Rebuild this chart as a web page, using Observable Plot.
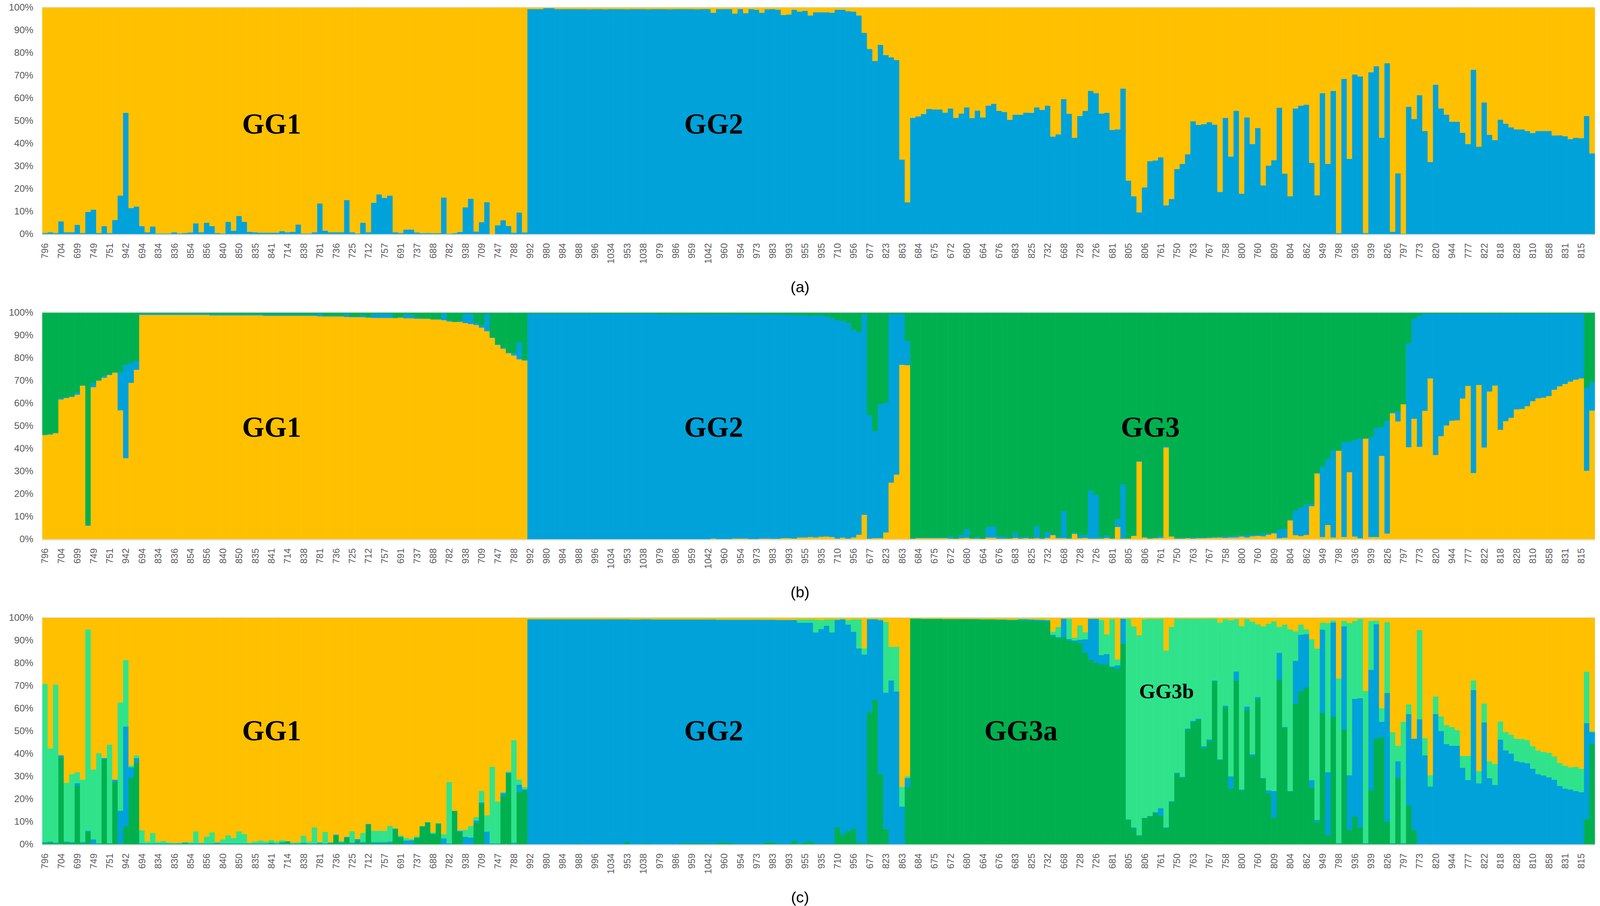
<!DOCTYPE html>
<html><head><meta charset="utf-8">
<script src="https://cdn.jsdelivr.net/npm/d3@7"></script>
<script src="https://cdn.jsdelivr.net/npm/@observablehq/plot@0.6"></script>
<style>
html,body{margin:0;padding:0;background:#fff;overflow:hidden;}
.cap{text-align:center;font-family:"Liberation Sans",Arial,sans-serif;color:#000;}
#err{font:30px sans-serif;color:red;position:absolute;left:10px;top:10px;}
</style></head><body><div id="root"></div><div id="err"></div>
<script>
// ---------- tick labels (every third individual) ----------
const tickLabels = ["796","704","699","749","751","942","694","834","836","854","856","840","850","835","841","714","838","781","736","725","712","757","691","737","688","782","938","709","747","788",
"992","980","984","988","996","1034","953","1038","979","986","959","1042","960","954","973","983","993","955","935","710","956","677","823","863","684","675","672","680","664","676","683","825","732",
"668","728","726","681","805","806","761","750","763","767","758","800","760","809","804","862","949","798","936","939","826","797","773","820","944","777","822","818","828","810","858","831","815"];
const yTicks = [0,10,20,30,40,50,60,70,80,90,100];

// ---------- panel (a): blue share, yellow is the rest ----------
const aBlue = [
0.5,0.8,0.5,5.6,0.8,0.8,4.1,0.5,9.8,10.8,
0.5,3.5,0.5,6.2,17,53.5,11.5,12.2,3.5,0.8,
3.3,0.3,0.3,0.3,0.8,0.3,0.5,0.7,4.7,0.8,
5,3.5,0.5,0.3,5.4,1.5,8,5.4,1,0.8,
0.6,0.6,0.6,0.6,1.3,0.8,1,4.2,0.3,0.3,
0.8,13.5,1.5,0.8,0.8,0.8,15,0.8,0.3,5,
0.8,13.8,17.5,16,17,0.8,0.5,2,2,0.7,
0.4,0.5,0.4,0.4,16.1,0.2,0.4,0.9,11.8,15.6,
1.1,5.3,14.1,0,3.9,6.1,3.6,0.6,9.5,0.7,
99.3,99.3,99.3,99.7,99.7,99.3,99.3,99.3,99.3,99.3,
99.3,99.2,99.3,99.3,99.2,99.3,99.3,99.3,99.2,99.3,
99.3,99.3,99.2,99.3,99.3,99.3,99.2,99.3,99.3,99.3,
99.3,99.2,99.3,99.3,97.7,99.3,99.3,99.3,97.3,99.3,
97.5,99.3,99,97.7,99.2,99.3,99,96.7,96.9,99,
98.2,98.5,96.5,97.9,97.9,97.9,97.7,99,99,98.4,
98.2,96.5,88.8,81.7,76.4,83.5,79,78,76.8,32.9,
14,51.3,51.9,53,55.2,55,55,53.6,55.4,51.3,
53.2,55.9,51.2,54.5,51.5,56.7,57.5,54.4,53.9,50.4,
52.7,52.7,53.6,53.5,55.9,54.8,56.7,43,44,59.6,
53.1,42.5,52.1,54.4,63.2,62.2,53.2,53.5,46,46.2,
64.2,23.6,16.7,9.6,20.6,32.2,32.5,33.9,12.7,15.5,
28.7,31,35.2,49.8,48.2,48.5,49.4,48.3,18.6,51.3,
34.2,54.4,17.8,51.5,39.7,46.8,21.5,30.2,32.6,55.8,
26.7,16.7,55.4,56.7,57.1,31.4,17.1,62.2,31,63.2,
0.4,68.5,33.2,70.4,69.6,0.5,71.4,74.1,42.5,75.4,
1,26.8,0.2,56.2,50.8,61.3,45.5,31.8,65.9,55.4,
52.7,49.6,49.6,44.7,39.7,72.5,38.6,58.1,43.8,41.5,
50.5,48.7,47.1,46.2,46.2,45.5,44.6,45.5,45.5,45.5,
43.5,43.6,43.2,41.9,42.5,42.3,52.1,35.6];

// ---------- panel (b): yellow and blue shares, green is the rest ----------
const bYellow = [
46,46.2,46.8,61.7,62.3,62.8,63.8,67.8,6,67.1,
70,71.3,72.5,73.5,56.9,35.8,69,74.8,99,99,
99,99,99,99,99,99,99,99,99,99,
99,98.8,98.8,98.8,98.8,98.8,98.8,98.8,98.8,98.8,
98.8,98.6,98.6,98.6,98.6,98.6,98.6,98.6,98.6,98.6,
98.6,98.4,98.3,98.3,98.3,98.3,98.1,98,98,98,
97.8,97.7,97.7,97.7,97.7,97.6,97.8,97.5,97.5,97.3,
97.3,97.3,97,97,96.7,96.1,95.9,95.9,95.4,95,
94.6,93.4,91.8,88.9,85.8,84.1,82.1,81.1,79.4,78.9,
0,0,0,0,0,0,0,0,0,0,
0,0,0,0,0,0,0,0,0,0,
0,0,0,0,0,0,0,0,0,0,
0,0,0,0,0.3,0.1,0.1,0.1,0.3,0.3,
0.3,0.1,0.1,0.3,0.3,0.2,0.2,0.5,0.5,0.3,
0.8,0.8,1,0.8,1.1,1.2,1,0.3,0.7,0.3,
0.8,2,10.8,0.3,0.5,0.5,3,25,28.5,77,
76.8,0.2,0.5,0.5,0.5,0.5,0.5,0.5,0.3,0.2,
0.5,0.6,0.3,0.3,0.2,0.7,0.7,0.3,0.3,0.3,
0.6,0.3,0.5,0.3,0.5,0.2,0.6,1.8,0.5,0.5,
0.3,2.4,0.5,0.6,0.3,0.3,0.3,0.6,0.3,5.4,
0.3,0.3,1.5,34.2,0.8,0.3,0.5,0.6,40.5,1.2,
0.3,0.3,0.5,0.3,0.5,0.5,0.6,0.7,0.8,0.6,
0.8,0.8,1.2,0.8,1.3,1.5,1.3,2,2.6,0.5,
0.7,8.3,1.8,1.4,1.9,14.6,29,1,6.3,0.8,
39,1,29.6,1.2,0.4,44.4,1,1,36.8,2.5,
55.6,52,59.6,40.6,53.2,40.8,56.7,71,37.2,45.5,
50.2,52.3,52.5,62.1,67.7,29.2,68.1,40.5,65.2,67.8,
48.3,52.1,53.6,57.3,57.5,58.7,60.9,62.2,62.5,63.2,
66,67.5,68.5,69.6,70.4,71,30.2,56.8];
const bBlue = [
0.2,0.3,0.2,0.6,0.4,0.3,1.2,0.1,0.3,2,
0.2,0.9,0.3,0.2,16.9,41.2,8.9,4,0.6,0.6,
0.6,0.6,0.6,0.6,0.6,0.6,0.6,0.6,0.6,0.6,
0.6,0.5,0.5,0.5,0.5,0.5,0.5,0.5,0.5,0.5,
0.5,0.5,0.5,0.5,0.5,0.5,0.5,0.5,0.5,0.5,
0.5,1.2,0.4,0.4,0.4,0.4,1.5,0.4,0.4,1,
0.2,1.9,1.9,1.9,1.9,0.2,0.1,1.8,1.6,0.5,
0.2,0.2,0.1,0.1,3,0.6,0.1,0.5,4.1,4.3,
1.1,1,7.5,0.2,0.3,0.4,0.4,1.1,7.4,0.2,
99.6,99.6,99.6,99.6,99.6,99.6,99.6,99.6,99.6,99.6,
99.6,99.6,99.5,99.5,99.5,99.5,99.5,99.5,99.5,99.5,
99.5,99.5,99.5,99.5,99.3,99.3,99.3,99.3,99.3,99.3,
99.3,99.3,99.3,99.3,99.1,99.2,99.2,99.2,98.9,98.9,
98.9,99,99,98.9,98.9,98.9,98.9,98.6,98.5,98.6,
98.1,98.1,97.5,98,97.7,97.1,96.7,96.3,95.7,95.2,
91.7,89.5,88.5,54.5,47.3,59.1,57.2,74.3,70.8,22.3,
10.7,0.3,0.3,0.3,0.3,0.3,0.3,0.3,1,0.3,
1.5,4,0.1,0.7,0.1,4.8,4.9,1,0.9,0.2,
2.4,0.7,0.7,0.3,5.3,0.6,2.6,0.4,0.7,11.9,
0.5,0.7,1.2,1.4,21.2,19.3,0.7,1.1,0.2,3.4,
23.9,0.2,0.2,0.4,0.2,0.2,0.3,0.9,0.5,0.1,
0.2,0.3,0.2,0.5,0.3,0.3,0.3,0.3,0.3,0.7,
0.7,0.9,0.5,1.1,0.7,0.5,1,0.6,0.3,3.8,
3.8,0.4,10.9,12.6,13.5,1.1,0.2,31,29.1,38.4,
0.2,41.8,13.4,42.6,44,0.1,44,48,12.8,49.8,
0.6,4.5,0.1,45.8,44.1,58,42.8,28.5,62.3,54,
49.3,47.2,47,37.4,31.8,70.3,31.4,59,34.3,31.7,
51.2,47.4,45.9,42.2,42,40.8,38.6,37.3,37,36.3,
33.5,32,31,29.9,29.1,28.5,36.7,12.6];

// ---------- panel (c): dark green, blue, light green shares, yellow is the rest ----------
const cDark = [
0.5,1,0.5,38.3,1,0.5,25.8,0.5,5.5,0.3,
0.2,37.5,0.3,27.5,0.3,8,29.3,36,0.2,0.2,
0.2,0.2,0.2,0.2,0.2,0.2,0.6,0.2,0.2,0.2,
0.2,0.2,0.3,0.2,0.2,0.2,0.2,0.2,0.2,0.2,
0.2,0.2,0.5,0.2,0.6,1.2,0.2,0.2,0.5,0.2,
0.2,0.5,0.2,0.5,3.8,0.5,2.8,0.3,1.5,0.5,
8.7,0.5,0.5,0.5,0.5,6.7,3,0,0.3,2.8,
7.9,9.6,4.5,9,0,0,14.7,5.5,0,0,
9.4,17.8,0,0,0,21.2,31.2,0,23.1,23.8,
0,0,0,0,0,0,0,0,0,0.3,
0,0,0,0,0,0,0,0,1,0,
0,0.3,0.3,0,0,0,0,0,0.4,0.4,
0.4,0.4,0.4,0.4,0.2,0.7,0.7,0.7,0.2,0.2,
0.2,0.2,0.2,0.2,0.9,0.9,0.2,0.2,0.2,1.6,
0.2,0.8,1.3,0.3,0.2,0.2,0.2,7.5,4.3,5.8,
6.9,0.8,0.3,58.3,63.8,31,6.7,0,0,0,
25,99.5,99.5,99.4,99.4,99.4,99.4,99.3,99.3,99.3,
99.3,99.2,99.2,99.2,99.1,99.1,99.1,99,99,98.9,
98.9,98.8,98.8,98.7,98.6,98.5,98.4,92,91,91.4,
89.9,89.5,88.9,84.5,81.5,80,79.5,79.3,78,77.5,
88.5,10.9,7,3.9,11.6,12.4,13.8,12.5,7.2,18.8,
31.2,29.4,50.6,53.9,55,42.5,45.5,72,37.2,60.5,
24.6,72.2,23.8,59.3,38.9,64.1,29,22.5,11.7,72.6,
51.5,23.3,62,67.5,69.2,25.1,9.8,58,4.1,56.3,
0.3,50.6,6.4,12.3,7.5,0.3,23.8,46.7,47.2,10,
0.3,29.3,0.3,17.2,6.2,0,0,0.3,0,0,
0,0,0,0,0,0,0,0,0,0,
0,0,0,0,0,0,0,0,0,0,
0,0,0,0,0,0,11,44.2];
const cBlue = [
0.5,0.2,0.3,1,0.2,0.5,1.2,0.5,0.5,1.9,
0.3,0.6,0.2,1,14.5,44,4.7,2,0.3,0.2,
0.2,0.2,0.2,0.2,0.2,0.2,0.2,0.2,0.2,0.2,
0.2,0.2,0.5,0.2,0.2,0.2,0.2,0.2,0.2,0.2,
0.2,0.2,0.2,0.2,0.4,0.1,0.2,0.2,0.2,0.2,
0.2,0.3,0.2,0.3,0.5,0.5,0.5,0.5,0.8,0.5,
0.3,0.5,0.5,0.5,0.7,0.3,0.4,1.7,1.5,0.2,
0.1,0.1,0.2,0.2,2.6,0.4,0.1,0.4,3.3,3,
1.1,0.7,5.6,0.4,0.4,1.4,0.5,0.7,3.2,0.5,
99.3,99.3,99.3,99.3,99.3,99.3,99.3,99.3,99.3,99,
99.3,99.3,99.3,99.3,99.3,99.3,99.3,99.3,98.3,99.2,
99.2,99,99,99.2,99.2,99.2,99.2,99.2,98.8,98.8,
98.8,98.8,98.8,98.8,99,98.4,98.4,98.4,98.9,98.9,
98.9,98.9,98.9,98.9,98.2,98.2,98.8,98.8,98.8,97.4,
97.6,97,96.5,93.2,94.8,96.3,93.3,91.5,95,91.2,
86.9,85.7,83.5,41,35.5,67.9,60.2,72.3,67.5,16.7,
4.2,0.1,0.1,0.1,0.1,0.1,0.1,0.1,0.1,0.1,
0.1,0.2,0.2,0.2,0.2,0.2,0.2,0.2,0.2,0.2,
0.2,0.5,0.5,0.5,0.5,0.5,0.5,0.5,0.5,8.2,
0.7,0.5,1.4,6,18,19.5,4,4.7,0.5,1.5,
11,0.1,0.5,0.1,0.1,0.1,0.4,3.5,0.3,0.3,
0.4,0.4,0.5,0.6,0.5,0.8,0.8,0.3,0.3,0.7,
5.4,4.1,0.4,1.5,0.8,0.9,0.3,1.3,11.8,11.9,
0.3,0.2,19,25,23.6,3.3,1,36.8,27.7,41.6,
0.2,45.6,24.1,51.9,57,0.2,53.2,50.5,6.9,56.8,
0.2,7.4,0.2,40.3,40.4,55.2,39.3,25.2,57.5,50,
44.2,43.5,43.5,33.8,28.4,68.1,26.9,53.8,29.2,26.2,
46.2,41.5,40,36.7,36.2,35.8,33.4,31,30.4,29.6,
28.5,25.8,24.6,24.2,23.5,23,42.5,5.4];
const cLight = [
69.8,41.1,69.7,0,26,30,4.8,27.5,88.8,30.8,
39.7,0,43.5,0,47.8,29.3,0.8,1.2,5.7,0.8,
4.6,0.7,1.1,0.4,0.2,0.3,0.2,0.6,5.3,0.4,
3,4.9,0,1.8,3.6,2.4,5.3,4.1,0.4,0.8,
1.2,0.8,1.1,0.8,0.8,0.2,0.4,0.6,3.1,0.8,
7.1,0.2,5.1,0.2,0,0.5,0,5,0,4,
0,5,5,5,7,0,0.5,1.1,0.6,0.6,
0.1,0.2,0.6,0.2,1.9,27.1,0,0.3,3.1,5.1,
1.5,5.1,7.2,33.8,18.5,0.5,0.4,45.3,2.3,1,
0.1,0.1,0.1,0.1,0.1,0.1,0.1,0.1,0.1,0.1,
0.1,0.1,0.1,0.1,0.1,0.1,0.1,0.1,0.1,0.1,
0.1,0.1,0.1,0.1,0.1,0.1,0.1,0.1,0.1,0.1,
0.1,0.1,0.1,0.1,0.1,0.1,0.1,0.1,0.1,0.1,
0.1,0.1,0.1,0.1,0.1,0.1,0.1,0.1,0.1,0.1,
1.5,1.5,1.5,5.7,4,2.8,5.8,0.3,0.2,2,
5.5,12.8,2.7,0.2,0.2,0.4,31.3,14.9,19.7,8.7,
0.8,0.1,0.1,0.1,0.1,0.1,0.1,0.1,0.1,0.1,
0.1,0.1,0.1,0.1,0.1,0.1,0.1,0.1,0.1,0.1,
0.1,0.2,0.2,0.2,0.2,0.2,0.2,1.3,4.5,0,
8.9,1.2,6.3,3.1,0.1,0.1,15.5,8.7,20.9,2.6,
0.1,88.5,88.7,88.3,87.6,87.1,85.3,83.5,78,76.9,
68,69.8,48.5,45.1,44.1,56.3,53.3,27.3,60.4,38.2,
68.9,23.1,72.1,38.6,58.6,32.1,66.9,73.6,74.9,11.5,
45.2,71.4,13,4.5,2.1,62.1,75.6,3.1,65.9,0.9,
72.7,2.4,67.2,34.4,35,67.2,21.6,1.5,6,31.2,
49,6.8,53.6,4.3,0,39.4,7.6,5,7.8,6.5,
8.5,8.3,6.9,5.2,10.6,4.2,5.4,8.4,7.4,9.3,
8,8.1,8.4,9.9,10.3,10.2,9.9,10.4,10.4,10.8,
10.3,10.2,10.1,9.8,10.7,10.4,22.7,0.2];

// ---------- group labels: name, individual (bar) index, height in % ----------
const groupsA = [{name:"GG1", at:42, y:48.4},{name:"GG2", at:124, y:48.4}];
const groupsB = [{name:"GG1", at:42, y:49.4},{name:"GG2", at:124, y:49.4},{name:"GG3", at:205, y:49.4}];
const groupsC = [{name:"GG1", at:42, y:50},{name:"GG2", at:124, y:50},{name:"GG3a", at:181, y:50}];
const groupsCsmall = [{name:"GG3b", at:208, y:67.6}];

// ---------- drawing ----------
const YELLOW = "#FFC000", BLUE = "#00A2DA", GREEN = "#00B04F", LIGHT = "#30E38B";
const N = aBlue.length;
try {
  const all = {aBlue,bYellow,bBlue,cDark,cBlue,cLight};
  for (const [n,a] of Object.entries(all)) if (a.length !== N) throw new Error(n+" length "+a.length+" vs "+N);
} catch(e) { document.getElementById("err").textContent = e.message; }
const idx = d3.range(N);
const tickIdx = tickLabels.map((_, k) => 3 * k);

// fit the 4345 x 2319 design to the actual viewport
const VW = document.documentElement.clientWidth || window.innerWidth || 4345;
const VH = window.innerHeight || 2319;
const sx = VW / 4345, sy = VH / 2319, fs = Math.min(sx, sy);

function panel(comps, groupSets) {
  const data = [];
  for (let i = 0; i < N; i++) {
    let sum = 0;
    for (const c of comps) {
      const v = c.values ? c.values[i] : Math.max(0, 100 - sum);
      sum += v;
      data.push({i, key: c.key, v});
    }
  }
  const keys = comps.map(c => c.key);
  const marks = [
    Plot.barY(data, {x: "i", y: "v", fill: "key", stroke: "key", strokeWidth: 0.7, order: keys}),
    Plot.ruleY([100], {stroke: "#d9d9d9", strokeWidth: 1.5, dy: -0.75}),
    Plot.ruleY([0], {stroke: "#d9d9d9", strokeWidth: 2.5, dy: 1.3}),
    Plot.axisY({ticks: yTicks, tickFormat: d => d + "%", tickSize: 0, tickPadding: 25 * sx, fontSize: 26 * fs, color: "#595959"}),
    Plot.axisX({ticks: tickIdx, tickFormat: i => tickLabels[i / 3], tickRotate: -90, tickSize: 0, tickPadding: 23 * sy, fontSize: 25 * fs, color: "#595959"})
  ];
  for (const g of groupSets) {
    marks.push(Plot.text(g.data, {x: "at", y: "y", text: "name", fontSize: g.size * fs, fontWeight: "bold",
      fontFamily: "Liberation Serif, Times New Roman, serif", fill: "#000"}));
  }
  return Plot.plot({
    width: VW, height: 694 * sy, marginTop: 19 * sy, marginBottom: 95 * sy, marginLeft: 115 * sx, marginRight: 14 * sx,
    style: {fontFamily: "Liberation Sans, Arial, sans-serif", background: "#fff", display: "block"},
    x: {type: "band", domain: idx, padding: 0, round: false, axis: null},
    y: {domain: [0, 100], axis: null},
    color: {domain: keys, range: comps.map(c => c.color)},
    marks
  });
}

const root = document.getElementById("root");
root.style.width = VW + "px";
function addBlock(svg, caption) {
  root.appendChild(svg);
  const d = document.createElement("div");
  d.className = "cap";
  d.style.height = (87 * sy) + "px";
  d.style.lineHeight = (80 * sy) + "px";
  d.style.fontSize = (42 * fs) + "px";
  d.textContent = caption;
  root.appendChild(d);
}
addBlock(panel([
  {key: "K1", color: BLUE, values: aBlue},
  {key: "K2", color: YELLOW, values: null}
], [{data: groupsA, size: 78}]), "(a)");
addBlock(panel([
  {key: "K1", color: YELLOW, values: bYellow},
  {key: "K2", color: BLUE, values: bBlue},
  {key: "K3", color: GREEN, values: null}
], [{data: groupsB, size: 78}]), "(b)");
addBlock(panel([
  {key: "K1", color: GREEN, values: cDark},
  {key: "K2", color: BLUE, values: cBlue},
  {key: "K3", color: LIGHT, values: cLight},
  {key: "K4", color: YELLOW, values: null}
], [{data: groupsC, size: 78}, {data: groupsCsmall, size: 57}]), "(c)");
</script>
</body></html>
